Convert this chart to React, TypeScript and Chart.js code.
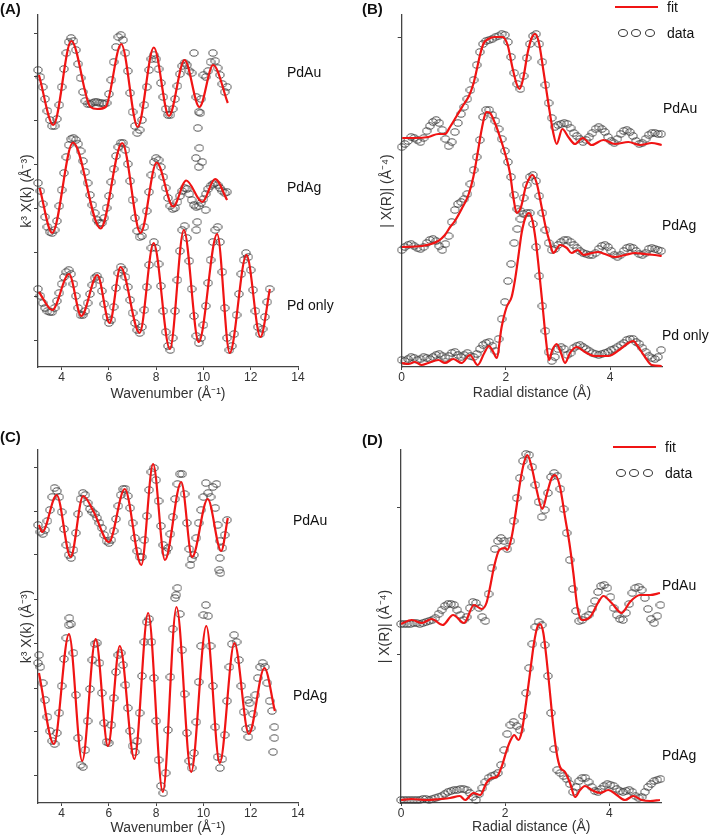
import React, { useEffect, useRef } from "react";
import { Chart, registerables } from "chart.js";

Chart.register(...registerables);

const FONT = '"Liberation Sans", Arial, Helvetica, sans-serif';
const RED = "#f01414";
const AXIS = "#444444";

// ---------- sampling grids ----------
const K_3_11 = [
  3.0, 3.1, 3.2, 3.3, 3.4, 3.5, 3.6, 3.7, 3.8, 3.9,
  4.0, 4.1, 4.2, 4.3, 4.4, 4.5, 4.6, 4.7, 4.8, 4.9,
  5.0, 5.1, 5.2, 5.3, 5.4, 5.5, 5.6, 5.7, 5.8, 5.9,
  6.0, 6.1, 6.2, 6.3, 6.4, 6.5, 6.6, 6.7, 6.8, 6.9,
  7.0, 7.1, 7.2, 7.3, 7.4, 7.5, 7.6, 7.7, 7.8, 7.9,
  8.0, 8.1, 8.2, 8.3, 8.4, 8.5, 8.6, 8.7, 8.8, 8.9,
  9.0, 9.1, 9.2, 9.3, 9.4, 9.5, 9.6, 9.7, 9.8, 9.9,
  10.0, 10.1, 10.2, 10.3, 10.4, 10.5, 10.6, 10.7, 10.8, 10.9,
  11.0,
];
const K_3_128 = [
  3.0, 3.1, 3.2, 3.3, 3.4, 3.5, 3.6, 3.7, 3.8, 3.9,
  4.0, 4.1, 4.2, 4.3, 4.4, 4.5, 4.6, 4.7, 4.8, 4.9,
  5.0, 5.1, 5.2, 5.3, 5.4, 5.5, 5.6, 5.7, 5.8, 5.9,
  6.0, 6.1, 6.2, 6.3, 6.4, 6.5, 6.6, 6.7, 6.8, 6.9,
  7.0, 7.1, 7.2, 7.3, 7.4, 7.5, 7.6, 7.7, 7.8, 7.9,
  8.0, 8.1, 8.2, 8.3, 8.4, 8.5, 8.6, 8.7, 8.8, 8.9,
  9.0, 9.1, 9.2, 9.3, 9.4, 9.5, 9.6, 9.7, 9.8, 9.9,
  10.0, 10.1, 10.2, 10.3, 10.4, 10.5, 10.6, 10.7, 10.8, 10.9,
  11.0, 11.1, 11.2, 11.3, 11.4, 11.5, 11.6, 11.7, 11.8, 11.9,
  12.0, 12.1, 12.2, 12.3, 12.4, 12.5, 12.6, 12.7, 12.8,
];
const K_3_13 = [
  3.0, 3.1, 3.2, 3.3, 3.4, 3.5, 3.6, 3.7, 3.8, 3.9,
  4.0, 4.1, 4.2, 4.3, 4.4, 4.5, 4.6, 4.7, 4.8, 4.9,
  5.0, 5.1, 5.2, 5.3, 5.4, 5.5, 5.6, 5.7, 5.8, 5.9,
  6.0, 6.1, 6.2, 6.3, 6.4, 6.5, 6.6, 6.7, 6.8, 6.9,
  7.0, 7.1, 7.2, 7.3, 7.4, 7.5, 7.6, 7.7, 7.8, 7.9,
  8.0, 8.1, 8.2, 8.3, 8.4, 8.5, 8.6, 8.7, 8.8, 8.9,
  9.0, 9.1, 9.2, 9.3, 9.4, 9.5, 9.6, 9.7, 9.8, 9.9,
  10.0, 10.1, 10.2, 10.3, 10.4, 10.5, 10.6, 10.7, 10.8, 10.9,
  11.0, 11.1, 11.2, 11.3, 11.4, 11.5, 11.6, 11.7, 11.8, 11.9,
  12.0, 12.1, 12.2, 12.3, 12.4, 12.5, 12.6, 12.7, 12.8, 12.9,
  13.0,
];
const R_GRID = [
  0.0, 0.06, 0.12, 0.18, 0.24, 0.3, 0.36, 0.42, 0.48, 0.54,
  0.6, 0.66, 0.72, 0.78, 0.84, 0.9, 0.96, 1.02, 1.08, 1.14,
  1.2, 1.26, 1.32, 1.38, 1.44, 1.5, 1.56, 1.62, 1.68, 1.74,
  1.8, 1.86, 1.92, 1.98, 2.04, 2.1, 2.16, 2.22, 2.28, 2.34,
  2.4, 2.46, 2.52, 2.58, 2.64, 2.7, 2.76, 2.82, 2.88, 2.94,
  3.0, 3.06, 3.12, 3.18, 3.24, 3.3, 3.36, 3.42, 3.48, 3.54,
  3.6, 3.66, 3.72, 3.78, 3.84, 3.9, 3.96, 4.02, 4.08, 4.14,
  4.2, 4.26, 4.32, 4.38, 4.44, 4.5, 4.56, 4.62, 4.68, 4.74,
  4.8, 4.86, 4.92, 4.98,
];

// ---------- tick labels ----------
const K_TICKS = [4, 6, 8, 10, 12, 14];
const R_TICKS = [0, 2, 4];
const A_YTICKS = [2.7, 7.1, 11.5, 15.9, 20.3, 24.7, 29.1, 33.4];
const B_YTICKS = [33.0];
const C_YTICKS = [2.8, 7.2, 11.5, 16.0, 20.4, 24.8, 29.1, 33.5];
const D_YTICKS = [14.8, 29.5];

// ---------- Panel A : k-space (PdAu, PdAg, Pd only) ----------
const A_AU_DATA = [
  29.7, 29.0, 28.0, 26.8, 25.6, 24.7, 24.1, 24.1, 24.8, 26.2,
  28.0, 29.8, 31.4, 32.5, 32.9, 32.6, 31.7, 30.3, 28.9, 27.5,
  26.6, 26.3, 26.3, 26.4, 26.5, 26.5, 26.4, 26.4, 26.3, 26.4,
  27.3, 28.7, 30.5, 32.0, 33.0, 33.2, 32.7, 31.4, 29.6, 27.4,
  25.5, 24.1, 23.4, 23.7, 24.7, 26.2, 28.0, 29.7, 30.8, 31.2,
  30.8, 29.8, 28.4, 27.0, 25.8, 25.2, 25.2, 25.8, 26.8, 28.1,
  29.3, 30.1, 30.4, 30.2, 29.6, 29.4, 31.4, 27.0, 25.5, 26.8,
  29.2, 29.0, 29.6, 30.5, 31.4, 30.6, 29.9, 29.2, 28.3, 27.5,
  28.0,
];
const A_AU_EXTRA_K = [9.76, 9.83, 9.68, 9.95, 9.8, 9.87];
const A_AU_EXTRA_V = [23.9, 21.9, 20.9, 20.5, 20.0, 25.4];
const A_AU_FIT_K = [3.04, 3.65, 4.41, 5.22, 5.51, 5.86, 6.52, 7.22, 7.9, 8.54, 9.2, 9.83, 10.41, 11.03];
const A_AU_FIT_V = [29.2, 24.2, 32.6, 26.0, 25.8, 26.0, 32.3, 24.0, 31.95, 25.1, 30.7, 26.0, 30.2, 26.4];

const A_AG_DATA = [
  18.4, 17.6, 16.3, 15.0, 14.0, 13.5, 13.4, 13.7, 14.6, 16.1,
  17.7, 19.4, 21.0, 22.2, 22.8, 22.9, 22.7, 22.3, 21.6, 20.6,
  19.5, 18.4, 17.2, 16.2, 15.4, 14.7, 14.4, 14.4, 14.9, 15.9,
  17.1, 18.5, 19.8, 21.1, 22.0, 22.4, 22.4, 21.7, 20.3, 18.6,
  16.7, 14.9, 13.6, 13.0, 13.1, 14.0, 15.6, 17.5, 19.2, 20.5,
  20.9, 20.7, 20.0, 19.0, 17.9, 16.9, 16.1, 15.8, 15.9, 16.5,
  17.1, 17.6, 17.9, 17.8, 17.3, 16.7, 16.2, 16.0, 16.1, 16.4,
  16.8, 17.3, 17.8, 18.1, 18.3, 18.4, 18.2, 17.9, 17.6, 17.4,
  17.5,
];
const A_AG_EXTRA_K = [9.74, 9.7, 10.09];
const A_AG_EXTRA_V = [14.5, 13.7, 15.7];
const A_AG_FIT_K = [3.07, 3.6, 4.48, 5.65, 6.56, 7.34, 8.02, 8.72, 9.27, 9.95, 10.49, 11.0];
const A_AG_FIT_V = [17.9, 13.4, 22.45, 13.85, 22.4, 13.4, 20.45, 16.05, 18.65, 16.5, 18.8, 16.7];

const A_PD_DATA = [
  7.8, 7.1, 6.4, 5.9, 5.6, 5.5, 5.5, 5.9, 6.6, 7.4,
  8.3, 9.0, 9.5, 9.7, 9.3, 8.3, 7.1, 5.9, 5.2, 5.2,
  5.6, 6.4, 7.3, 8.2, 8.9, 9.1, 8.7, 7.6, 6.3, 5.0,
  4.4, 4.7, 6.0, 7.9, 9.4, 10.0, 9.7, 9.0, 8.0, 6.7,
  5.4, 4.4, 3.7, 3.4, 4.0, 5.7, 8.0, 10.2, 11.9, 12.5,
  11.9, 10.3, 8.1, 5.6, 3.5, 2.1, 1.7, 2.9, 5.6, 8.7,
  11.6, 13.7, 14.1, 12.9, 10.6, 7.8, 5.1, 3.1, 2.4, 2.9,
  4.2, 6.1, 8.4, 10.7, 12.5, 13.7, 14.0, 12.5, 9.5, 5.9,
  2.9, 1.7, 2.1, 3.3, 5.2, 7.3, 9.3, 10.7, 11.4, 11.0,
  9.7, 7.7, 5.6, 4.0, 3.3, 3.8, 5.0, 6.5, 7.8,
];
const A_PD_FIT_K = [3.04, 3.6, 4.31, 4.83, 5.51, 6.03, 6.49, 7.3, 7.89, 8.58, 9.17, 9.8, 10.58, 11.11, 11.82, 12.41, 12.81];
const A_PD_FIT_V = [7.5, 5.7, 9.3, 5.1, 9.2, 4.4, 10.0, 3.4, 12.4, 1.8, 13.7, 2.5, 13.3, 1.4, 11.2, 3.0, 7.8];

// ---------- Panel B : R-space (PdAu, PdAg, Pd only) ----------
const B_AU_DATA = [
  22.0, 22.3, 22.6, 23.0, 22.9, 22.7, 22.5, 22.9, 23.6, 24.1,
  24.5, 24.7, 24.4, 23.7, 22.8, 22.1, 22.5, 23.5, 24.4, 25.3,
  26.0, 26.8, 27.7, 28.7, 30.2, 31.5, 32.3, 32.6, 32.7, 32.8,
  33.0, 33.1, 33.3, 33.2, 32.5, 31.0, 29.4, 28.3, 27.8, 29.1,
  30.9, 32.3, 33.1, 33.3, 32.3, 30.5, 28.2, 26.4, 24.9, 24.0,
  24.2, 24.3, 24.4, 24.3, 23.9, 23.4, 23.1, 22.8, 22.5, 22.7,
  23.0, 23.4, 23.8, 24.0, 23.8, 23.5, 23.0, 22.6, 22.4, 22.8,
  23.3, 23.6, 23.7, 23.5, 23.1, 22.6, 22.3, 22.4, 22.8, 23.2,
  23.4, 23.4, 23.3, 23.3,
];
const B_AU_FIT_R = [
  0.01, 0.255, 0.511, 0.703, 0.831, 0.927, 1.055, 1.183, 1.291, 1.375,
  1.439, 1.503, 1.567, 1.663, 1.79, 1.93, 2.033, 2.123, 2.206, 2.264,
  2.334, 2.417, 2.494, 2.558, 2.635, 2.718, 2.814, 2.91, 2.974, 3.083,
  3.198, 3.326, 3.473, 3.646, 3.87, 4.094, 4.35, 4.573, 4.8, 4.99,
];
const B_AU_FIT_V = [
  22.9, 22.9, 23.0, 23.3, 23.3, 24.0, 25.1, 26.2, 27.1, 28.3,
  29.7, 31.2, 32.3, 32.8, 33.0, 33.0, 32.2, 30.0, 28.3, 27.8,
  28.9, 31.4, 32.9, 33.3, 32.4, 29.7, 26.4, 23.4, 22.3, 23.8,
  23.0, 22.3, 22.9, 22.2, 22.7, 22.3, 22.5, 22.2, 22.4, 22.2,
];

const B_AG_DATA = [
  11.7, 12.0, 12.2, 12.3, 12.1, 11.9, 11.8, 12.0, 12.4, 12.7,
  12.8, 12.6, 12.1, 11.7, 12.3, 13.1, 14.5, 15.7, 16.3, 16.5,
  16.8, 17.3, 18.3, 19.7, 21.0, 22.7, 25.0, 25.7, 25.7, 25.2,
  24.6, 23.8, 22.8, 21.6, 20.5, 19.0, 17.2, 15.8, 15.6, 16.9,
  18.2, 19.0, 19.2, 18.6, 17.1, 15.4, 13.7, 12.4, 11.7, 11.8,
  12.2, 12.5, 12.7, 12.7, 12.5, 12.2, 11.9, 11.6, 11.4, 11.3,
  11.2, 11.2, 11.4, 11.8, 12.1, 12.2, 12.0, 11.6, 11.2, 11.0,
  11.2, 11.6, 11.9, 12.0, 11.9, 11.6, 11.3, 11.2, 11.4, 11.8,
  11.9, 11.8, 11.7, 11.6,
];
const B_AG_FIT_R = [
  0.0, 0.383, 0.7, 0.83, 0.93, 1.02, 1.15, 1.28, 1.375, 1.458,
  1.522, 1.586, 1.63, 1.695, 1.79, 1.886, 1.982, 2.078, 2.142, 2.206,
  2.29, 2.379, 2.462, 2.507, 2.59, 2.686, 2.763, 2.846, 2.91, 3.04,
  3.17, 3.26, 3.38, 3.49, 3.65, 3.77, 3.9, 4.09, 4.29, 4.48,
  4.67, 4.86, 4.99,
];
const B_AG_FIT_V = [
  12.0, 12.1, 12.6, 13.2, 14.0, 14.6, 15.8, 17.2, 19.0, 21.4,
  23.4, 25.0, 25.5, 25.4, 24.4, 23.0, 21.4, 19.4, 17.0, 15.4,
  16.0, 18.0, 19.0, 19.2, 18.4, 16.0, 14.0, 12.4, 11.4, 12.2,
  11.9, 11.4, 11.7, 11.2, 11.4, 11.5, 11.3, 11.0, 11.2, 11.4,
  11.3, 11.2, 11.1,
];

const B_PD_DATA = [
  0.7, 0.6, 0.8, 1.0, 0.9, 0.7, 0.8, 1.0, 0.9, 0.8,
  1.0, 1.2, 1.3, 1.1, 0.9, 1.1, 1.4, 1.5, 1.2, 1.0,
  1.2, 1.4, 1.1, 1.0, 1.3, 1.8, 2.2, 2.4, 2.5, 2.1,
  1.6, 2.8, 4.8, 6.5, 8.6, 10.3, 12.4, 13.8, 14.8, 15.3,
  15.4, 15.4, 14.3, 12.0, 9.1, 6.1, 3.6, 1.5, 0.6, 1.0,
  1.8, 2.0, 1.8, 1.2, 1.4, 1.9, 2.1, 2.2, 2.0, 1.8,
  1.6, 1.4, 1.3, 1.2, 1.3, 1.4, 1.5, 1.7, 1.8, 2.0,
  2.2, 2.4, 2.7, 2.8, 2.8, 2.5, 2.3, 1.9, 1.5, 1.1,
  0.9, 0.8, 1.0, 1.7,
];
const B_PD_FIT_R = [
  0.0, 0.13, 0.255, 0.383, 0.511, 0.703, 0.831, 0.99, 1.151, 1.31,
  1.458, 1.586, 1.675, 1.758, 1.822, 1.918, 2.014, 2.11, 2.174, 2.238,
  2.302, 2.379, 2.443, 2.507, 2.571, 2.635, 2.699, 2.763, 2.827, 2.891,
  2.974, 3.057, 3.134, 3.23, 3.358, 3.518, 3.71, 3.966, 4.222, 4.35,
  4.445, 4.541, 4.67, 4.798, 4.99,
];
const B_PD_FIT_V = [
  0.4, 0.3, 0.5, 0.2, 0.4, 0.7, 0.4, 0.8, 0.4, 1.2,
  0.2, 1.4, 2.1, 1.5, 0.9, 4.0, 6.0, 7.0, 8.7, 11.0,
  13.4, 15.0, 15.4, 14.7, 12.7, 9.7, 6.4, 3.0, 0.7, 1.7,
  2.3, 1.4, 0.4, 1.4, 2.0, 1.5, 1.1, 1.1, 1.9, 2.4,
  2.6, 2.0, 1.0, 0.2, 0.1,
];

// ---------- Panel C : k-space (PdAu, PdAg) ----------
const C_AU_DATA = [
  27.8, 27.1, 26.9, 27.3, 28.2, 29.3, 30.6, 31.5, 31.2, 30.6,
  29.1, 27.4, 25.8, 24.8, 24.5, 25.3, 27.0, 28.9, 30.4, 31.0,
  30.8, 30.0, 29.4, 29.1, 28.9, 28.5, 28.0, 27.5, 26.8, 26.2,
  26.0, 26.3, 27.2, 28.4, 29.7, 30.8, 31.4, 31.4, 30.7, 29.5,
  28.0, 26.5, 25.2, 24.6, 24.6, 26.3, 28.7, 31.3, 33.1, 33.5,
  32.3, 30.2, 27.7, 25.8, 25.1, 25.5, 26.9, 28.6, 30.4, 31.9,
  32.9, 32.9, 30.9, 28.0, 25.4, 24.4, 24.8, 26.5, 28.0, 29.3,
  30.6, 32.0, 31.0, 30.6, 31.6, 29.5, 27.8, 26.2, 25.5, 26.8,
  28.3,
];
const C_AU_EXTRA_K = [10.55, 10.69, 10.67, 10.72, 9.45];
const C_AU_EXTRA_V = [31.9, 24.5, 23.3, 23.0, 23.8];
const C_AU_FIT_K = [3.04, 3.18, 3.79, 4.38, 4.91, 5.36, 6.0, 6.67, 7.37, 7.87, 8.37, 9.06, 9.52, 10.18, 10.75, 11.03];
const C_AU_FIT_V = [27.8, 27.1, 30.8, 24.6, 30.7, 29.1, 26.1, 31.4, 23.8, 33.9, 24.3, 32.1, 24.6, 30.4, 25.2, 28.5];

const C_AG_DATA = [
  14.0, 13.6, 12.0, 10.3, 8.6, 7.2, 6.2, 5.9, 7.0, 9.0,
  11.7, 14.4, 16.5, 17.8, 17.9, 15.0, 10.8, 6.5, 3.8, 3.6,
  5.3, 8.2, 11.4, 14.3, 15.9, 16.0, 14.0, 11.0, 8.0, 6.1,
  6.0, 7.8, 10.5, 13.1, 14.8, 15.0, 13.8, 11.8, 9.5, 7.2,
  5.7, 5.1, 6.2, 9.0, 12.7, 16.1, 18.1, 18.4, 16.1, 12.5,
  8.2, 4.3, 1.7, 1.0, 3.0, 7.3, 12.6, 17.4, 20.5, 21.5,
  18.9, 15.3, 10.9, 7.0, 4.2, 3.5, 5.0, 8.1, 12.1, 15.7,
  18.8, 19.8, 18.7, 15.7, 11.7, 7.6, 4.6, 3.5, 4.4, 6.8,
  10.2, 13.6, 15.9, 16.8, 16.1, 14.3, 11.7, 9.1, 7.4, 6.6,
  7.5, 8.9, 10.8, 12.5, 13.6, 14.0, 13.6, 12.0, 10.2, 9.2,
  7.6,
];
const C_AG_EXTRA_K = [8.85, 11.87, 11.95, 13.0, 12.95, 3.05, 4.33];
const C_AG_EXTRA_V = [20.8, 10.3, 10.0, 6.5, 5.1, 14.8, 18.5];
const C_AG_FIT_K = [3.04, 3.67, 4.31, 4.87, 5.44, 5.96, 6.46, 7.08, 7.66, 8.28, 8.86, 9.48, 10.12, 10.69, 11.31, 11.92, 12.58, 13.02];
const C_AG_FIT_V = [13.0, 5.9, 16.9, 4.2, 16.4, 5.7, 15.7, 4.4, 19.0, 1.1, 19.6, 3.1, 17.7, 4.0, 16.0, 6.9, 13.5, 9.2];

// ---------- Panel D : R-space (PdAu, PdAg) ----------
const D_AU_DATA = [
  17.9, 17.9, 17.9, 17.9, 18.0, 18.0, 17.9, 18.0, 18.1, 18.2,
  18.3, 18.5, 18.9, 19.3, 19.7, 19.9, 19.9, 19.8, 19.3, 18.8,
  18.3, 18.6, 19.5, 20.1, 20.0, 19.5, 18.6, 18.2, 20.9, 23.5,
  25.4, 26.2, 26.5, 26.2, 25.4, 26.2, 28.2, 30.5, 32.5, 34.2,
  34.9, 34.8, 33.6, 31.8, 30.1, 28.6, 29.3, 31.0, 32.6, 33.0,
  32.7, 31.4, 29.4, 27.0, 24.3, 21.4, 19.2, 18.2, 18.3, 18.6,
  18.8, 19.4, 20.2, 21.1, 21.7, 21.8, 21.5, 20.6, 19.5, 18.8,
  18.4, 18.3, 19.0, 19.9, 21.0, 21.5, 21.6, 21.3, 20.5, 19.4,
  18.4, 18.0, 18.7, 19.8,
];
const D_AU_FIT_R = [
  0.0, 0.205, 0.4, 0.59, 0.8, 1.0, 1.21, 1.4, 1.55, 1.64,
  1.71, 1.785, 1.887, 2.0, 2.04, 2.124, 2.2, 2.284, 2.36, 2.425,
  2.508, 2.604, 2.712, 2.809, 2.892, 2.956, 3.052, 3.148, 3.232, 3.308,
  3.385, 3.468, 3.63, 3.79, 3.884, 4.043, 4.235, 4.395, 4.587, 4.78,
  4.97,
];
const D_AU_FIT_V = [
  17.9, 18.3, 18.0, 18.4, 17.8, 18.8, 18.0, 19.8, 19.4, 20.0,
  21.6, 23.6, 25.3, 25.5, 25.3, 26.6, 29.0, 32.0, 34.0, 34.8,
  33.6, 31.3, 29.4, 31.1, 32.5, 32.8, 31.6, 28.6, 26.0, 23.0,
  19.6, 18.3, 18.6, 20.1, 20.7, 20.0, 19.0, 20.1, 20.8, 20.8,
  21.0,
];

const D_AG_DATA = [
  0.3, 0.3, 0.3, 0.3, 0.3, 0.3, 0.3, 0.4, 0.4, 0.3,
  0.4, 0.5, 0.6, 0.7, 0.9, 1.1, 1.2, 1.3, 1.3, 1.4,
  1.4, 1.3, 1.0, 0.6, 0.3, 0.9, 1.5, 2.1, 2.5, 2.7,
  2.8, 3.0, 3.8, 5.3, 6.9, 7.8, 8.1, 7.7, 7.3, 8.7,
  11.0, 13.5, 15.9, 17.6, 18.1, 17.8, 15.8, 12.7, 9.0, 5.4,
  3.3, 3.0, 2.7, 2.4, 1.9, 1.1, 1.6, 2.2, 2.5, 2.5,
  2.1, 1.6, 1.2, 1.1, 1.4, 1.7, 1.9, 1.8, 1.7, 1.4,
  1.2, 1.1, 1.2, 1.3, 1.1, 0.7, 0.5, 0.6, 1.1, 1.6,
  1.9, 2.2, 2.3, 2.4,
];
const D_AG_FIT_R = [
  0.0, 0.2, 0.49, 0.75, 0.94, 1.13, 1.23, 1.39, 1.52, 1.64,
  1.74, 1.836, 1.93, 2.03, 2.105, 2.175, 2.252, 2.316, 2.4, 2.476,
  2.553, 2.617, 2.668, 2.732, 2.796, 2.86, 2.924, 2.988, 3.052, 3.148,
  3.244, 3.34, 3.436, 3.53, 3.66, 3.82, 3.98, 4.14, 4.3, 4.46,
  4.62, 4.78, 4.97,
];
const D_AG_FIT_V = [
  0.3, 0.4, 0.3, 0.4, 0.5, 0.7, 0.3, 1.0, 0.8, 2.0,
  2.5, 2.6, 3.6, 5.3, 6.3, 6.8, 6.3, 7.1, 10.0, 13.0,
  16.0, 17.6, 17.9, 17.0, 14.3, 11.0, 7.6, 5.0, 3.6, 3.1,
  2.0, 0.6, 1.3, 1.7, 1.3, 1.0, 1.3, 0.8, 0.3, 0.7,
  0.3, 0.2, 0.3,
];

// ---------- helpers ----------
type Pt = { x: number; y: number };
function pts(xs: number[], ys: number[]): Pt[] {
  const n = Math.min(xs.length, ys.length);
  const out: Pt[] = [];
  for (let i = 0; i < n; i++) out.push({ x: xs[i], y: ys[i] });
  return out;
}

// hollow, slightly flattened ring used as the marker of the measured data
let ringCache: HTMLCanvasElement | null = null;
function ringMarker(): HTMLCanvasElement {
  if (ringCache) return ringCache;
  const c = document.createElement("canvas");
  c.width = 10;
  c.height = 8;
  const g = c.getContext("2d");
  if (g) {
    g.strokeStyle = "#383838";
    g.lineWidth = 0.85;
    g.beginPath();
    g.ellipse(5, 4, 4.1, 3.2, 0, 0, Math.PI * 2);
    g.stroke();
  }
  ringCache = c;
  return c;
}

type PanelCfg = {
  left: number;
  top: number;
  w: number;
  h: number;
  area: { left: number; right: number; top: number; bottom: number };
  xMin: number;
  xMax: number;
  xTicks: number[];
  yMin: number;
  yMax: number;
  yTicks: number[];
  xTitle: string;
  yTitle: string;
  xTitleY: number;
  yTitleX: number;
  fits: Pt[][];
  data: Pt[][];
};

function Panel({ cfg }: { cfg: PanelCfg }) {
  const ref = useRef<HTMLCanvasElement | null>(null);
  useEffect(() => {
    const canvas = ref.current;
    if (!canvas) return;
    const marker = ringMarker();
    const datasets: any[] = [];
    cfg.fits.forEach((d) =>
      datasets.push({
        data: d,
        showLine: true,
        borderColor: RED,
        backgroundColor: RED,
        borderWidth: 2.2,
        pointRadius: 0,
        cubicInterpolationMode: "monotone",
        order: 0,
      })
    );
    cfg.data.forEach((d) =>
      datasets.push({
        data: d,
        showLine: false,
        borderColor: "#383838",
        backgroundColor: "rgba(255,255,255,0)",
        pointRadius: 4,
        pointStyle: marker,
        order: 1,
        clip: false,
      })
    );
    const titleFont = { family: FONT, size: 14, lineHeight: 1 };
    const chart = new Chart(canvas, {
      type: "scatter",
      data: { datasets },
      options: {
        animation: false,
        responsive: false,
        maintainAspectRatio: false,
        devicePixelRatio: 1,
        events: [],
        layout: {
          padding: {
            left: 0,
            top: cfg.area.top,
            right: cfg.w - cfg.area.right,
            bottom: 0,
          },
        },
        plugins: { legend: { display: false }, tooltip: { enabled: false } },
        scales: {
          x: {
            type: "linear",
            position: "bottom",
            min: cfg.xMin,
            max: cfg.xMax,
            afterBuildTicks: (s: any) => {
              s.ticks = cfg.xTicks.map((v) => ({ value: v }));
            },
            afterFit: (s: any) => {
              s.height = cfg.h - cfg.area.bottom;
            },
            grid: {
              display: true,
              drawOnChartArea: false,
              drawTicks: true,
              tickLength: 3,
              color: AXIS,
              lineWidth: 1,
            },
            border: { display: true, color: AXIS, width: 1.3 },
            ticks: {
              padding: 0,
              color: "#333",
              font: { family: FONT, size: 12 },
              maxRotation: 0,
              autoSkip: false,
            },
            title: {
              display: true,
              text: cfg.xTitle,
              color: "#333",
              font: titleFont,
              padding: { top: 0, bottom: cfg.h - cfg.xTitleY - 7 },
            },
          },
          y: {
            type: "linear",
            position: "left",
            min: cfg.yMin,
            max: cfg.yMax,
            afterBuildTicks: (s: any) => {
              s.ticks = cfg.yTicks.map((v) => ({ value: v }));
            },
            afterFit: (s: any) => {
              s.width = cfg.area.left;
            },
            grid: {
              display: true,
              drawOnChartArea: false,
              drawTicks: true,
              tickLength: 4,
              color: AXIS,
              lineWidth: 1,
            },
            border: { display: true, color: AXIS, width: 1.3 },
            ticks: { display: false },
            title: {
              display: true,
              text: cfg.yTitle,
              color: "#333",
              font: titleFont,
              padding: { top: cfg.yTitleX - 7, bottom: 0 },
            },
          },
        },
      } as any,
    });
    return () => chart.destroy();
  }, [cfg]);
  return (
    <canvas
      ref={ref}
      width={cfg.w}
      height={cfg.h}
      style={{ position: "absolute", left: cfg.left, top: cfg.top, width: cfg.w, height: cfg.h }}
    />
  );
}

const K_TITLE = "Wavenumber (\u00C5\u207B\u00B9)";
const K_YTITLE = "k\u00B3 X(k) (\u00C5\u207B\u00B3)";
const R_TITLE = "Radial distance (\u00C5)";
const R_YTITLE = "| X(R)| (\u00C5\u207B\u2074)";

const PANEL_A: PanelCfg = {
  left: 0, top: 0, w: 354, h: 410,
  area: { left: 38, right: 298, top: 15, bottom: 367 },
  xMin: 3, xMax: 14, xTicks: K_TICKS,
  yMin: 0, yMax: 35.2, yTicks: A_YTICKS,
  xTitle: K_TITLE, yTitle: K_YTITLE, xTitleY: 394, yTitleX: 27,
  fits: [pts(A_AU_FIT_K, A_AU_FIT_V), pts(A_AG_FIT_K, A_AG_FIT_V), pts(A_PD_FIT_K, A_PD_FIT_V)],
  data: [
    pts(K_3_11, A_AU_DATA), pts(A_AU_EXTRA_K, A_AU_EXTRA_V),
    pts(K_3_11, A_AG_DATA), pts(A_AG_EXTRA_K, A_AG_EXTRA_V),
    pts(K_3_128, A_PD_DATA),
  ],
};

const PANEL_B: PanelCfg = {
  left: 354, top: 0, w: 355, h: 410,
  area: { left: 47.7, right: 308.2, top: 15, bottom: 367 },
  xMin: 0, xMax: 5, xTicks: R_TICKS,
  yMin: 0, yMax: 35.2, yTicks: B_YTICKS,
  xTitle: R_TITLE, yTitle: R_YTITLE, xTitleY: 393, yTitleX: 32.7,
  fits: [pts(B_AU_FIT_R, B_AU_FIT_V), pts(B_AG_FIT_R, B_AG_FIT_V), pts(B_PD_FIT_R, B_PD_FIT_V)],
  data: [pts(R_GRID, B_AU_DATA), pts(R_GRID, B_AG_DATA), pts(R_GRID, B_PD_DATA)],
};

const PANEL_C: PanelCfg = {
  left: 0, top: 420, w: 354, h: 416,
  area: { left: 38, right: 298, top: 30, bottom: 383 },
  xMin: 3, xMax: 14, xTicks: K_TICKS,
  yMin: 0, yMax: 35.3, yTicks: C_YTICKS,
  xTitle: K_TITLE, yTitle: K_YTITLE, xTitleY: 408, yTitleX: 27,
  fits: [pts(C_AU_FIT_K, C_AU_FIT_V), pts(C_AG_FIT_K, C_AG_FIT_V)],
  data: [
    pts(K_3_11, C_AU_DATA), pts(C_AU_EXTRA_K, C_AU_EXTRA_V),
    pts(K_3_13, C_AG_DATA), pts(C_AG_EXTRA_K, C_AG_EXTRA_V),
  ],
};

const PANEL_D: PanelCfg = {
  left: 354, top: 420, w: 355, h: 416,
  area: { left: 47, right: 307.5, top: 30, bottom: 383 },
  xMin: 0, xMax: 5, xTicks: R_TICKS,
  yMin: 0, yMax: 35.3, yTicks: D_YTICKS,
  xTitle: R_TITLE, yTitle: R_YTITLE, xTitleY: 407, yTitleX: 31,
  fits: [pts(D_AU_FIT_R, D_AU_FIT_V), pts(D_AG_FIT_R, D_AG_FIT_V)],
  data: [pts(R_GRID, D_AU_DATA), pts(R_GRID, D_AG_DATA)],
};

function Label({ x, y, text, bold, size }: { x: number; y: number; text: string; bold?: boolean; size?: number }) {
  const fs = size || 14;
  return (
    <div
      style={{
        position: "absolute",
        left: x,
        top: y - 10,
        height: 20,
        lineHeight: "20px",
        fontSize: fs,
        fontFamily: FONT,
        fontWeight: bold ? 700 : 400,
        color: "#111",
        whiteSpace: "nowrap",
      }}
    >
      {text}
    </div>
  );
}

function Legend({ x, y }: { x: number; y: number }) {
  // x: left of the red line, y: centre of the "fit" row
  const circ = (cx: number) => (
    <div
      style={{
        position: "absolute",
        left: cx - 5,
        top: y + 26 - 4,
        width: 10,
        height: 8,
        boxSizing: "border-box",
        border: "1px solid #333",
        borderRadius: "50%",
      }}
    />
  );
  return (
    <>
      <div style={{ position: "absolute", left: x, top: y - 1.3, width: 43, height: 2.6, background: RED }} />
      <Label x={x + 52} y={y} text="fit" />
      {circ(x + 8)}
      {circ(x + 21)}
      {circ(x + 35)}
      <Label x={x + 52} y={y + 26} text="data" />
    </>
  );
}

export default function App() {
  return (
    <div
      style={{
        position: "absolute",
        left: 0,
        top: 0,
        width: 709,
        height: 836,
        background: "#fff",
        overflow: "hidden",
      }}
    >
      <Panel cfg={PANEL_A} />
      <Panel cfg={PANEL_B} />
      <Panel cfg={PANEL_C} />
      <Panel cfg={PANEL_D} />

      <Label x={0} y={9} text="(A)" bold size={15} />
      <Label x={362} y={9} text="(B)" bold size={15} />
      <Label x={0} y={437} text="(C)" bold size={15} />
      <Label x={362} y={440} text="(D)" bold size={15} />

      <Label x={287} y={72} text="PdAu" />
      <Label x={287} y={187} text="PdAg" />
      <Label x={287} y={305} text="Pd only" />

      <Label x={663} y={108} text="PdAu" />
      <Label x={662} y={225} text="PdAg" />
      <Label x={662} y={335} text="Pd only" />

      <Label x={293} y={520} text="PdAu" />
      <Label x={293} y={695} text="PdAg" />

      <Label x={662} y={585} text="PdAu" />
      <Label x={662} y={755} text="PdAg" />

      <Legend x={615} y={7} />
      <Legend x={613} y={447} />
    </div>
  );
}
